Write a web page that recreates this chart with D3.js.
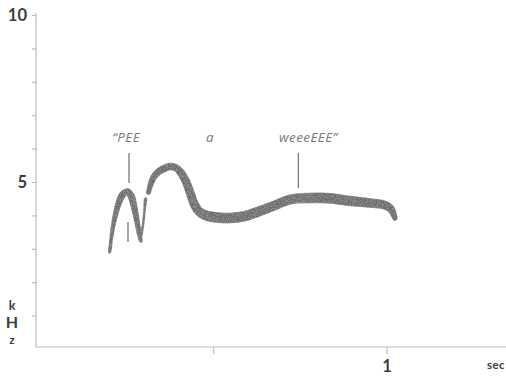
<!DOCTYPE html>
<html><head><meta charset="utf-8">
<script src="https://cdn.jsdelivr.net/npm/d3@7"></script>
<style>
html,body{margin:0;padding:0;background:#fff;}
svg{display:block;}
</style></head>
<body>
<svg id="chart" width="506" height="376"></svg>
<script>
// ---- data: song trace segments (time in sec, frequency in kHz, spread = band width in kHz)
const peeTime   = [0.2009,0.2052,0.2110,0.2197,0.2283,0.2399,0.2529,0.2630,0.2717,0.2803,0.2876,0.2919];
const peeFreq   = [2.874,3.263,3.683,4.102,4.401,4.641,4.701,4.581,4.251,3.802,3.383,3.204];
const peeSpread = [0.04,0.08,0.11,0.14,0.17,0.19,0.20,0.19,0.17,0.14,0.11,0.06];

const linkTime   = [0.2890,0.2977,0.3020,0.3049];
const linkFreq   = [3.263,3.743,4.192,4.521];
const linkSpread = [0.035,0.045,0.05,0.05];

const weeTime   = [0.3121,0.3179,0.3266,0.3410,0.3584,0.3757,0.3931,0.4075,0.4220,0.4335,0.4451,0.4595,0.4798,0.5116,0.5491,0.5925,0.6272,0.6734,0.7225,0.7803,0.8382,0.8960,0.9538,0.9942,1.0116,1.0202,1.0260];
const weeFreq   = [4.641,4.880,5.120,5.299,5.404,5.464,5.419,5.269,5.000,4.671,4.341,4.117,3.997,3.937,3.922,3.982,4.102,4.281,4.476,4.521,4.512,4.431,4.371,4.311,4.207,4.042,3.862];
const weeSpread = [0.08,0.14,0.17,0.19,0.20,0.20,0.20,0.22,0.23,0.24,0.25,0.26,0.28,0.29,0.29,0.29,0.28,0.27,0.27,0.29,0.29,0.28,0.26,0.24,0.22,0.17,0.08];

// annotations
const labelText = ["\u201cPEE", "a", "weeeEEE\u201d"];
const labelTime = [0.2486, 0.4910, 0.7746];
const labelFreq = 6.2;
const markTime  = [0.257, 0.254, 0.7457];
const markFrom  = [5.87, 3.80, 5.87];
const markTo    = [4.97, 3.20, 4.82];

// axes
const yTicks = [1,2,3,4,5,6,7,8,9,10];
const yTickLabels = {10:"10", 5:"5"};
const xTicks = [0.5, 1];
const xTickLabels = {1:"1"};
const yUnit = ["k","H","z"];
const xUnit = "sec";

// ---- drawing
const svg = d3.select("#chart");
const x = d3.scaleLinear().domain([-0.0115, 1.345]).range([36, 506]);
const y = d3.scaleLinear().domain([0, 10]).range([349, 15]);
const axisY = 347;
const axisColor = "#bdbdbd";
const textColor = "#3d3d3d";

// y axis
const gy = svg.append("g").attr("transform", "translate(36,0)")
  .call(d3.axisLeft(y).tickValues(yTicks).tickSize(4).tickSizeOuter(0).tickPadding(5)
    .tickFormat(d => yTickLabels[d] || ""));
gy.select(".domain").remove();
gy.selectAll(".tick line").attr("stroke", axisColor).attr("stroke-width", 1.2);
gy.selectAll(".tick text").attr("fill", textColor).attr("font-family", "Lato, sans-serif")
  .attr("font-weight", 700).attr("font-size", 16.5);
gy.append("line").attr("x1", 0).attr("x2", 0).attr("y1", axisY).attr("y2", y(10) - 2)
  .attr("stroke", axisColor).attr("stroke-width", 1.2);

// x axis
const gx = svg.append("g").attr("transform", `translate(0,${axisY})`)
  .call(d3.axisBottom(x).tickValues(xTicks).tickSize(7).tickSizeOuter(0).tickPadding(6)
    .tickFormat(d => xTickLabels[d] || ""));
gx.select(".domain").attr("stroke", axisColor).attr("stroke-width", 1.2)
  .attr("d", `M36,0H506`);
gx.selectAll(".tick line").attr("stroke", axisColor).attr("stroke-width", 1.2);
gx.selectAll(".tick text").attr("fill", textColor).attr("font-family", "Lato, sans-serif")
  .attr("font-weight", 700).attr("font-size", 16.5);

// unit labels
svg.append("text").attr("x", 505).attr("y", 369).attr("text-anchor", "end")
  .attr("font-family", "Lato, sans-serif").attr("font-weight", 700).attr("font-size", 11.5)
  .attr("letter-spacing", 0.4).attr("fill", textColor).text(xUnit);
const unitY = [310, 328, 344], unitSize = [12.5, 16, 11.5];
yUnit.forEach((c, i) => {
  svg.append("text").attr("x", 12).attr("y", unitY[i]).attr("text-anchor", "middle")
    .attr("font-family", "Lato, sans-serif").attr("font-weight", 700)
    .attr("font-size", unitSize[i]).attr("fill", textColor).text(c);
});

// trace band builder
function band(ts, fs, sp) {
  const pts = ts.map((t, i) => [x(t), y(fs[i])]);
  const hw = sp.map(s => (y(0) - y(s)) / 2);
  const left = [], right = [];
  pts.forEach((p, i) => {
    const a = pts[Math.max(0, i - 1)], b = pts[Math.min(pts.length - 1, i + 1)];
    let dx = b[0] - a[0], dy = b[1] - a[1];
    const len = Math.hypot(dx, dy) || 1;
    const nx = -dy / len, ny = dx / len;
    left.push([p[0] + nx * hw[i], p[1] + ny * hw[i]]);
    right.push([p[0] - nx * hw[i], p[1] - ny * hw[i]]);
  });
  return left.concat(right.reverse());
}
const bandLine = d3.line().curve(d3.curveCatmullRomClosed.alpha(0.5));

// grainy texture like a printed sonogram
const defs = svg.append("defs");
const f = defs.append("filter").attr("id", "grain").attr("x", "-10%").attr("y", "-10%")
  .attr("width", "120%").attr("height", "120%");
f.append("feTurbulence").attr("type", "fractalNoise").attr("baseFrequency", 1.2)
  .attr("numOctaves", 1).attr("seed", 3).attr("result", "n");
f.append("feColorMatrix").attr("in", "n").attr("type", "matrix")
  .attr("values", "0 0 0 0 1  0 0 0 0 1  0 0 0 0 1  0.6 0 0 0 -0.25").attr("result", "g");
f.append("feComposite").attr("in", "g").attr("in2", "SourceGraphic").attr("operator", "in").attr("result", "gm");
f.append("feMerge").call(m => { m.append("feMergeNode").attr("in", "SourceGraphic"); m.append("feMergeNode").attr("in", "gm"); });

const segs = [[peeTime, peeFreq, peeSpread], [linkTime, linkFreq, linkSpread], [weeTime, weeFreq, weeSpread]];
svg.append("g").attr("filter", "url(#grain)").selectAll("path").data(segs).join("path")
  .attr("d", d => bandLine(band(d[0], d[1], d[2])))
  .attr("fill", "#6c6c6c").attr("stroke", "#6c6c6c").attr("stroke-width", 0.8);

// markers
svg.append("g").selectAll("line").data(markTime).join("line")
  .attr("x1", d => x(d)).attr("x2", d => x(d))
  .attr("y1", (d, i) => y(markFrom[i])).attr("y2", (d, i) => y(markTo[i]))
  .attr("stroke", "#777").attr("stroke-width", 1.3);

// labels
svg.append("g").selectAll("text").data(labelText).join("text")
  .attr("x", (d, i) => x(labelTime[i])).attr("y", y(labelFreq))
  .attr("text-anchor", "middle").attr("font-family", "'Open Sans', sans-serif")
  .attr("font-style", "italic").attr("font-size", 13.5).attr("letter-spacing", 0.4)
  .attr("fill", "#7a7a7a")
  .text(d => d);
</script>
</body></html>
